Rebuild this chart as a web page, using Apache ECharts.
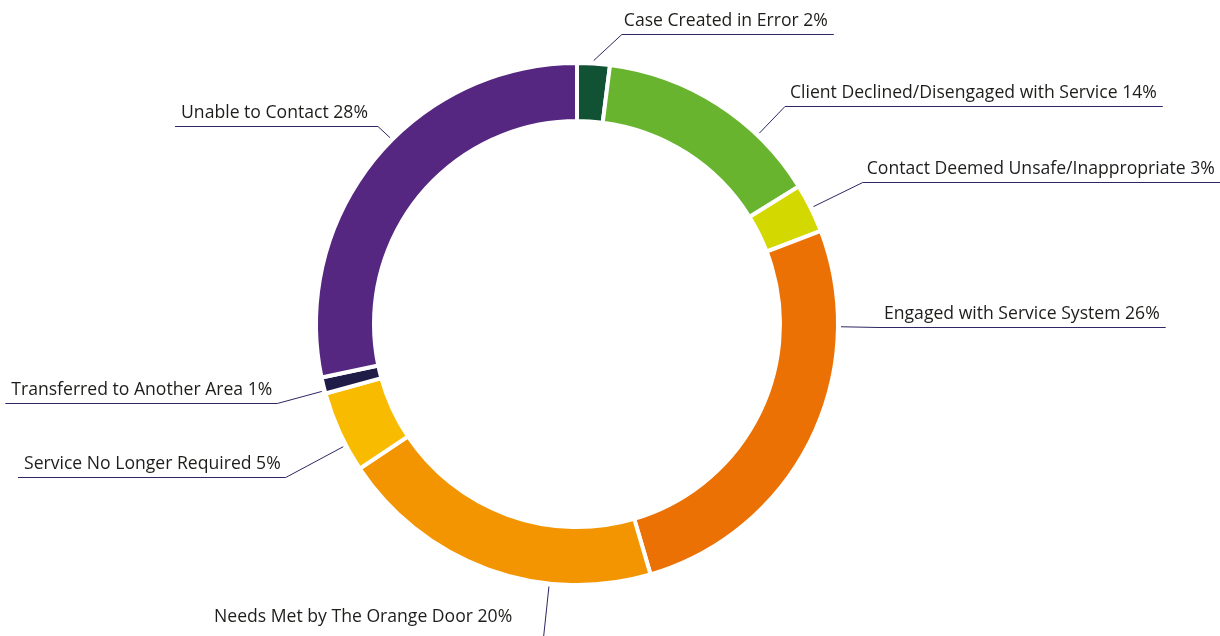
<!DOCTYPE html>
<html>
<head>
<meta charset="utf-8">
<title>Case outcomes</title>
<script src="https://cdn.jsdelivr.net/npm/echarts@6/dist/echarts.min.js"></script>
<style>
  html, body { margin: 0; padding: 0; background: #ffffff; }
  #chart { width: 1220px; height: 636px; }
</style>
</head>
<body>
<div id="chart"></div>
<script>
// Outcome categories, in clockwise order from twelve o'clock
const categories = [
  'Case Created in Error',
  'Client Declined/Disengaged with Service',
  'Contact Deemed Unsafe/Inappropriate',
  'Engaged with Service System',
  'Needs Met by The Orange Door',
  'Service No Longer Required',
  'Transferred to Another Area',
  'Unable to Contact'
];

// Share of cases for each outcome (percent)
const shares = [2, 14, 3, 26, 20, 5, 1, 28];

// Slice colours
const sliceColors = [
  '#115235', '#68b42f', '#d3d800', '#ec7105',
  '#f39500', '#f9bb00', '#201c48', '#552781'
];

// Where each callout sits: the knee of its leader line, given as an angle
// (degrees clockwise from twelve o'clock) and a distance from the ring centre.
// dx/dy nudge the text away from its underline when needed.
const calloutSpots = [
  { angle: 8.8,   dist: 293, dx: -3 },
  { angle: 43.7,  dist: 301 },
  { angle: 63.6,  dist: 319, dx: -1 },
  { angle: 90.6,  dist: 302 },
  { angle: 186.1, dist: 318, dx: -26, dy: -10 },
  { angle: 242.3, dist: 329 },
  { angle: 255.2, dist: 310 },
  { angle: 314.9, dist: 281, dx: -5 }
];

// Ring geometry
const CX = 577, CY = 324;
const R_IN = 203, R_OUT = 261, SEAM = 4;
const LEAD_R = R_OUT + 3;     // leader lines begin just off the outer edge
const NEAR_PAD = 5;           // gap between knee and text
const FAR_PAD = 6;            // underline overhang beyond the text
const TEXT_LIFT = 14;         // text sits above its underline

const total = shares.reduce((s, v) => s + v, 0);
const cumulative = [0];
shares.forEach((v, i) => cumulative.push(cumulative[i] + v));

const toXY = (deg, r) => {
  const a = deg * Math.PI / 180;
  return [CX + r * Math.sin(a), CY - r * Math.cos(a)];
};

const chart = echarts.init(document.getElementById('chart'), null, { renderer: 'canvas' });

chart.setOption({
  animation: false,
  backgroundColor: '#ffffff',
  series: [{
    type: 'pie',
    center: [CX, CY],
    radius: [R_IN, R_OUT],
    startAngle: 90,
    clockwise: true,
    avoidLabelOverlap: false,
    silent: true,
    itemStyle: { borderColor: '#ffffff', borderWidth: SEAM },
    label: {
      show: true,
      position: 'outside',
      formatter: p => p.name + ' ' + p.value + '%',
      fontFamily: 'Open Sans',
      fontSize: 17.6,
      color: '#1d1d1b'
    },
    labelLine: {
      show: true,
      length: 10,
      length2: 10,
      smooth: false,
      lineStyle: { color: '#2c2762', width: 1 }
    },
    labelLayout: params => {
      const i = params.dataIndex;
      const spot = calloutSpots[i];
      let [ex, ey] = toXY(spot.angle, spot.dist);
      ey = Math.round(ey) + 0.5;   // keep the underline on a pixel row
      const a0 = cumulative[i] / total * 360;
      const a1 = cumulative[i + 1] / total * 360;
      const leadAngle = (spot.angle > a0 && spot.angle < a1) ? spot.angle : (a0 + a1) / 2;
      const [sx, sy] = toXY(leadAngle, LEAD_R);
      const onLeft = ex < CX;
      const w = params.labelRect.width;
      const tx = (onLeft ? ex - NEAR_PAD : ex + NEAR_PAD) + (spot.dx || 0);
      const farX = onLeft ? tx - w - FAR_PAD : tx + w + FAR_PAD;
      return {
        x: tx,
        y: ey - TEXT_LIFT + (spot.dy || 0),
        align: onLeft ? 'right' : 'left',
        verticalAlign: 'middle',
        labelLinePoints: [[sx, sy], [ex, ey], [farX, ey]]
      };
    },
    data: categories.map((name, i) => ({
      name,
      value: shares[i],
      itemStyle: { color: sliceColors[i] }
    }))
  }]
});
</script>
</body>
</html>
